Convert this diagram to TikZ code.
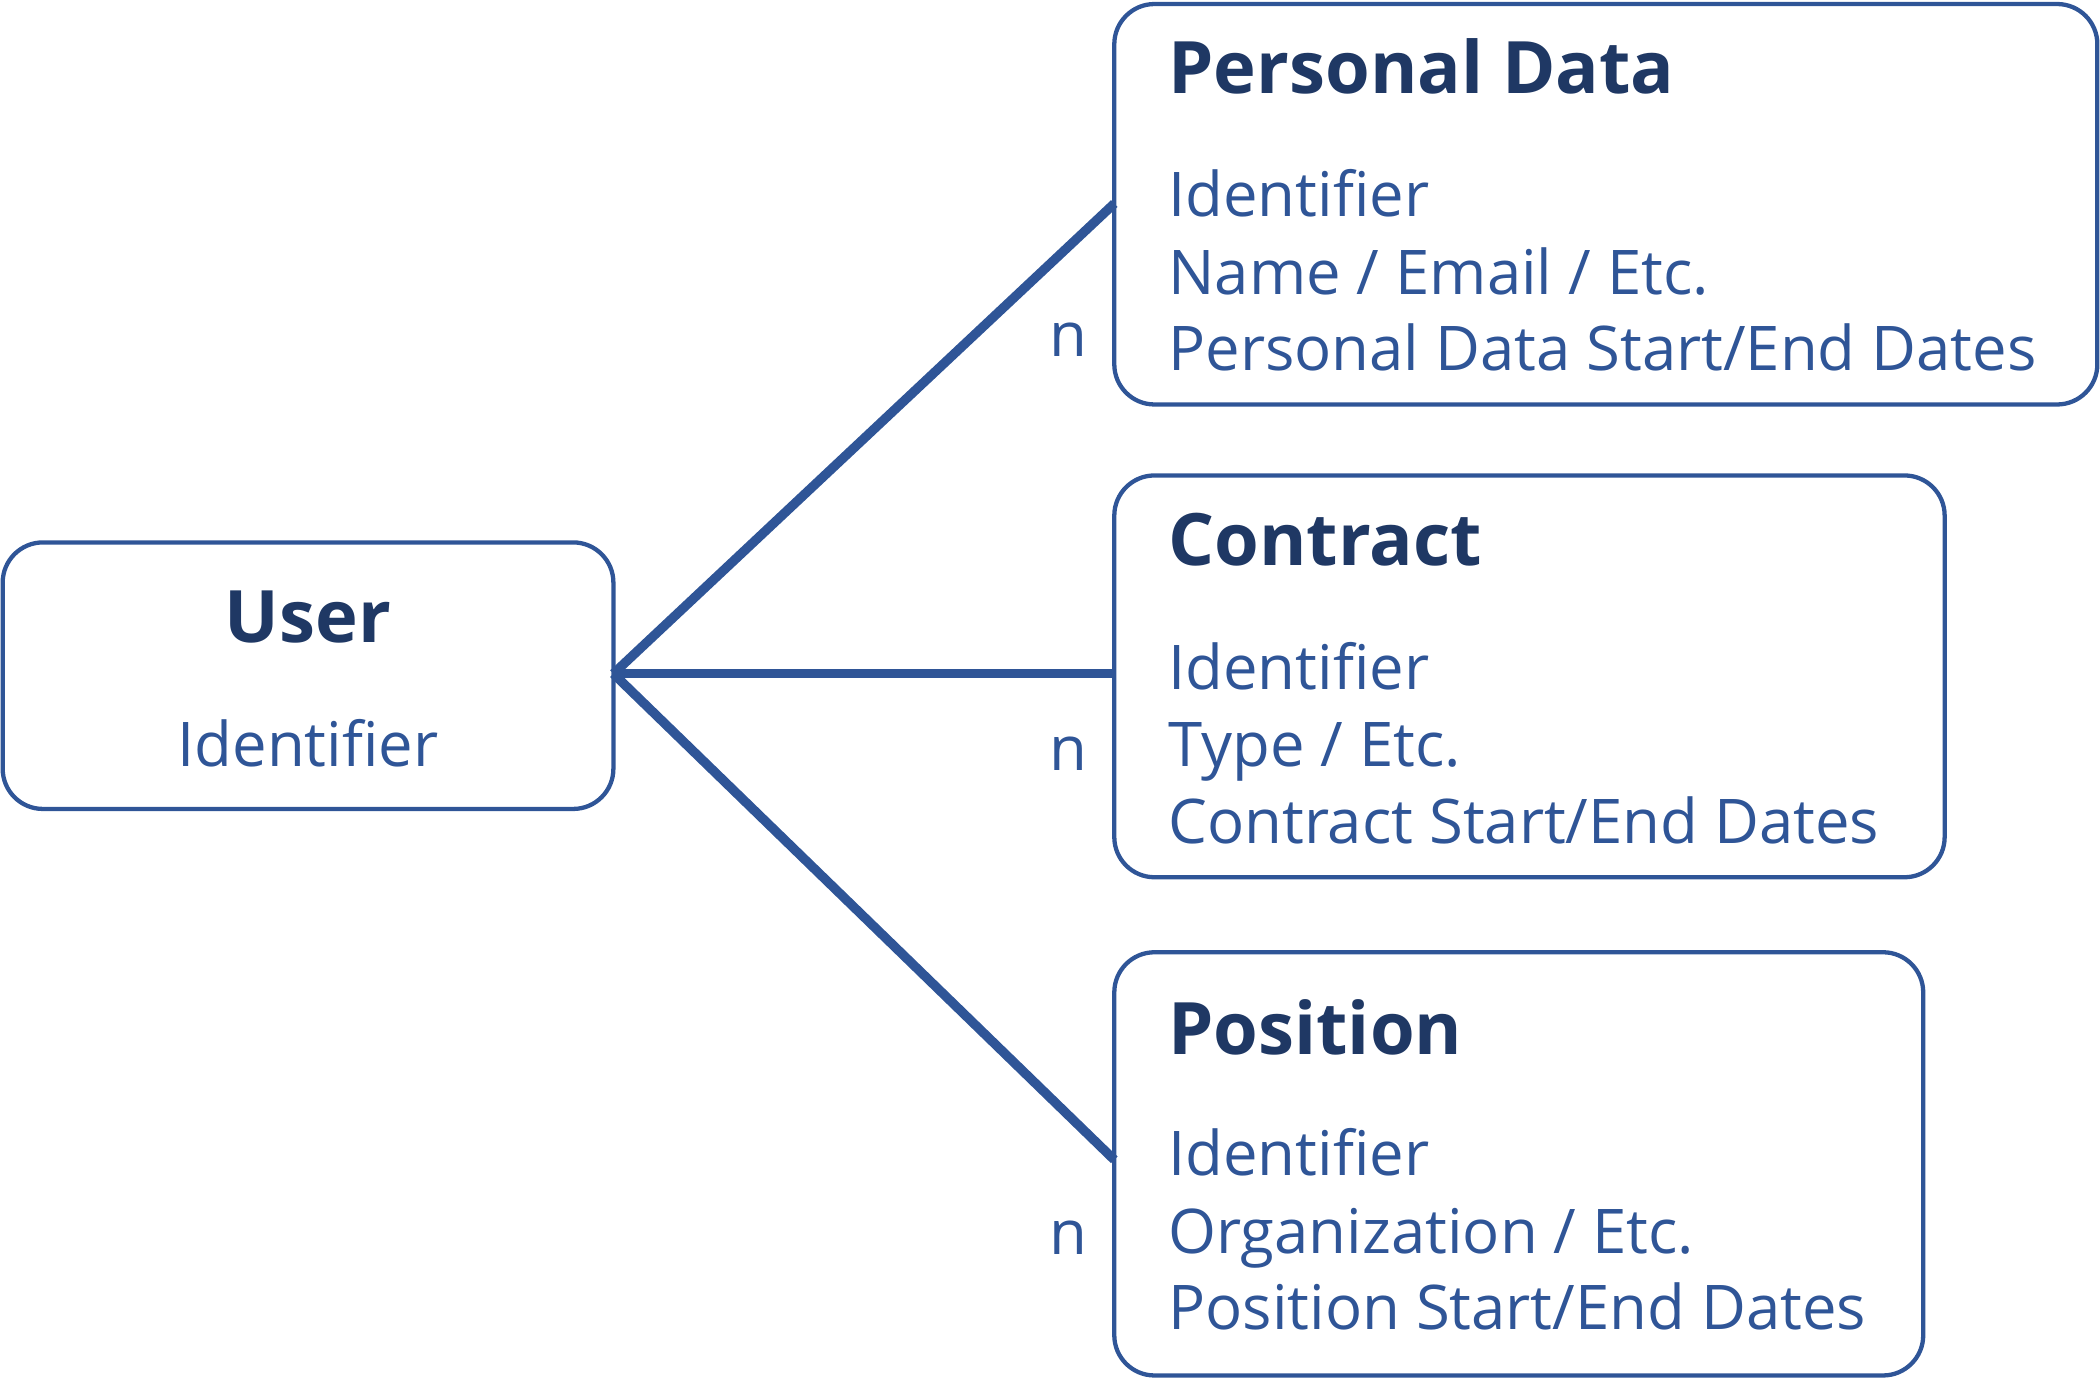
\documentclass[tikz,border=0pt]{standalone}
\usepackage{fontspec}
\setmainfont{Open Sans}
\definecolor{line}{HTML}{2F5597}
\definecolor{title}{HTML}{1F3864}
\begin{document}
\begin{tikzpicture}[x=0.5pt,y=-0.5pt,
  box/.style={draw=line,line width=1.6pt,rounded corners=15pt},
  conn/.style={draw=line,line width=3.5pt},
  ttl/.style={anchor=base west,inner sep=0,text=title,font=\fontsize{27}{30}\selectfont\bfseries},
  bod/.style={anchor=base west,inner sep=0,text=line,font=\fontsize{23}{28}\selectfont},
  card/.style={anchor=base,inner sep=0,text=line,font=\fontsize{23}{28}\selectfont}]
\useasboundingbox (0,0) rectangle (1568,1034);
\draw[box] (2,405) rectangle (458,604);
\draw[box] (832,3) rectangle (1566,302);
\draw[box] (832,355) rectangle (1452,655);
\draw[box] (832,711) rectangle (1436,1027);
\coordinate (u) at (458,503);
\coordinate (pd) at (832,152);
\coordinate (ct) at (832,503);
\coordinate (ps) at (832,866);
\draw[conn] (u) -- (pd);
\draw[conn] (u) -- (ct);
\draw[conn] (u) -- (ps);
\node[ttl,anchor=base] (ut) at (230,480) {User};
\node[card] (ui) at (230,572) {Identifier};
\node[ttl] (t1) at (872,70) {Personal Data};
\node[bod] (a1) at (872,162) {Identifier};
\node[bod] (a2) at (872,220) {Name / Email / Etc.};
\node[bod] (a3) at (872,277) {Personal Data Start/End Dates};
\node[ttl] (t2) at (872,422) {Contract};
\node[bod] (b1) at (872,515) {Identifier};
\node[bod] (b2) at (872,572) {Type / Etc.};
\node[bod] (b3) at (872,630) {Contract Start/End Dates};
\node[ttl] (t3) at (872,787) {Position};
\node[bod] (c1) at (872,878) {Identifier};
\node[bod] (c2) at (872,936) {Organization / Etc.};
\node[bod] (c3) at (872,993) {Position Start/End Dates};
\node[card] (n1) at (798,266) {n};
\node[card] (n2) at (798,575) {n};
\node[card] (n3) at (798,937) {n};
\end{tikzpicture}
\end{document}
